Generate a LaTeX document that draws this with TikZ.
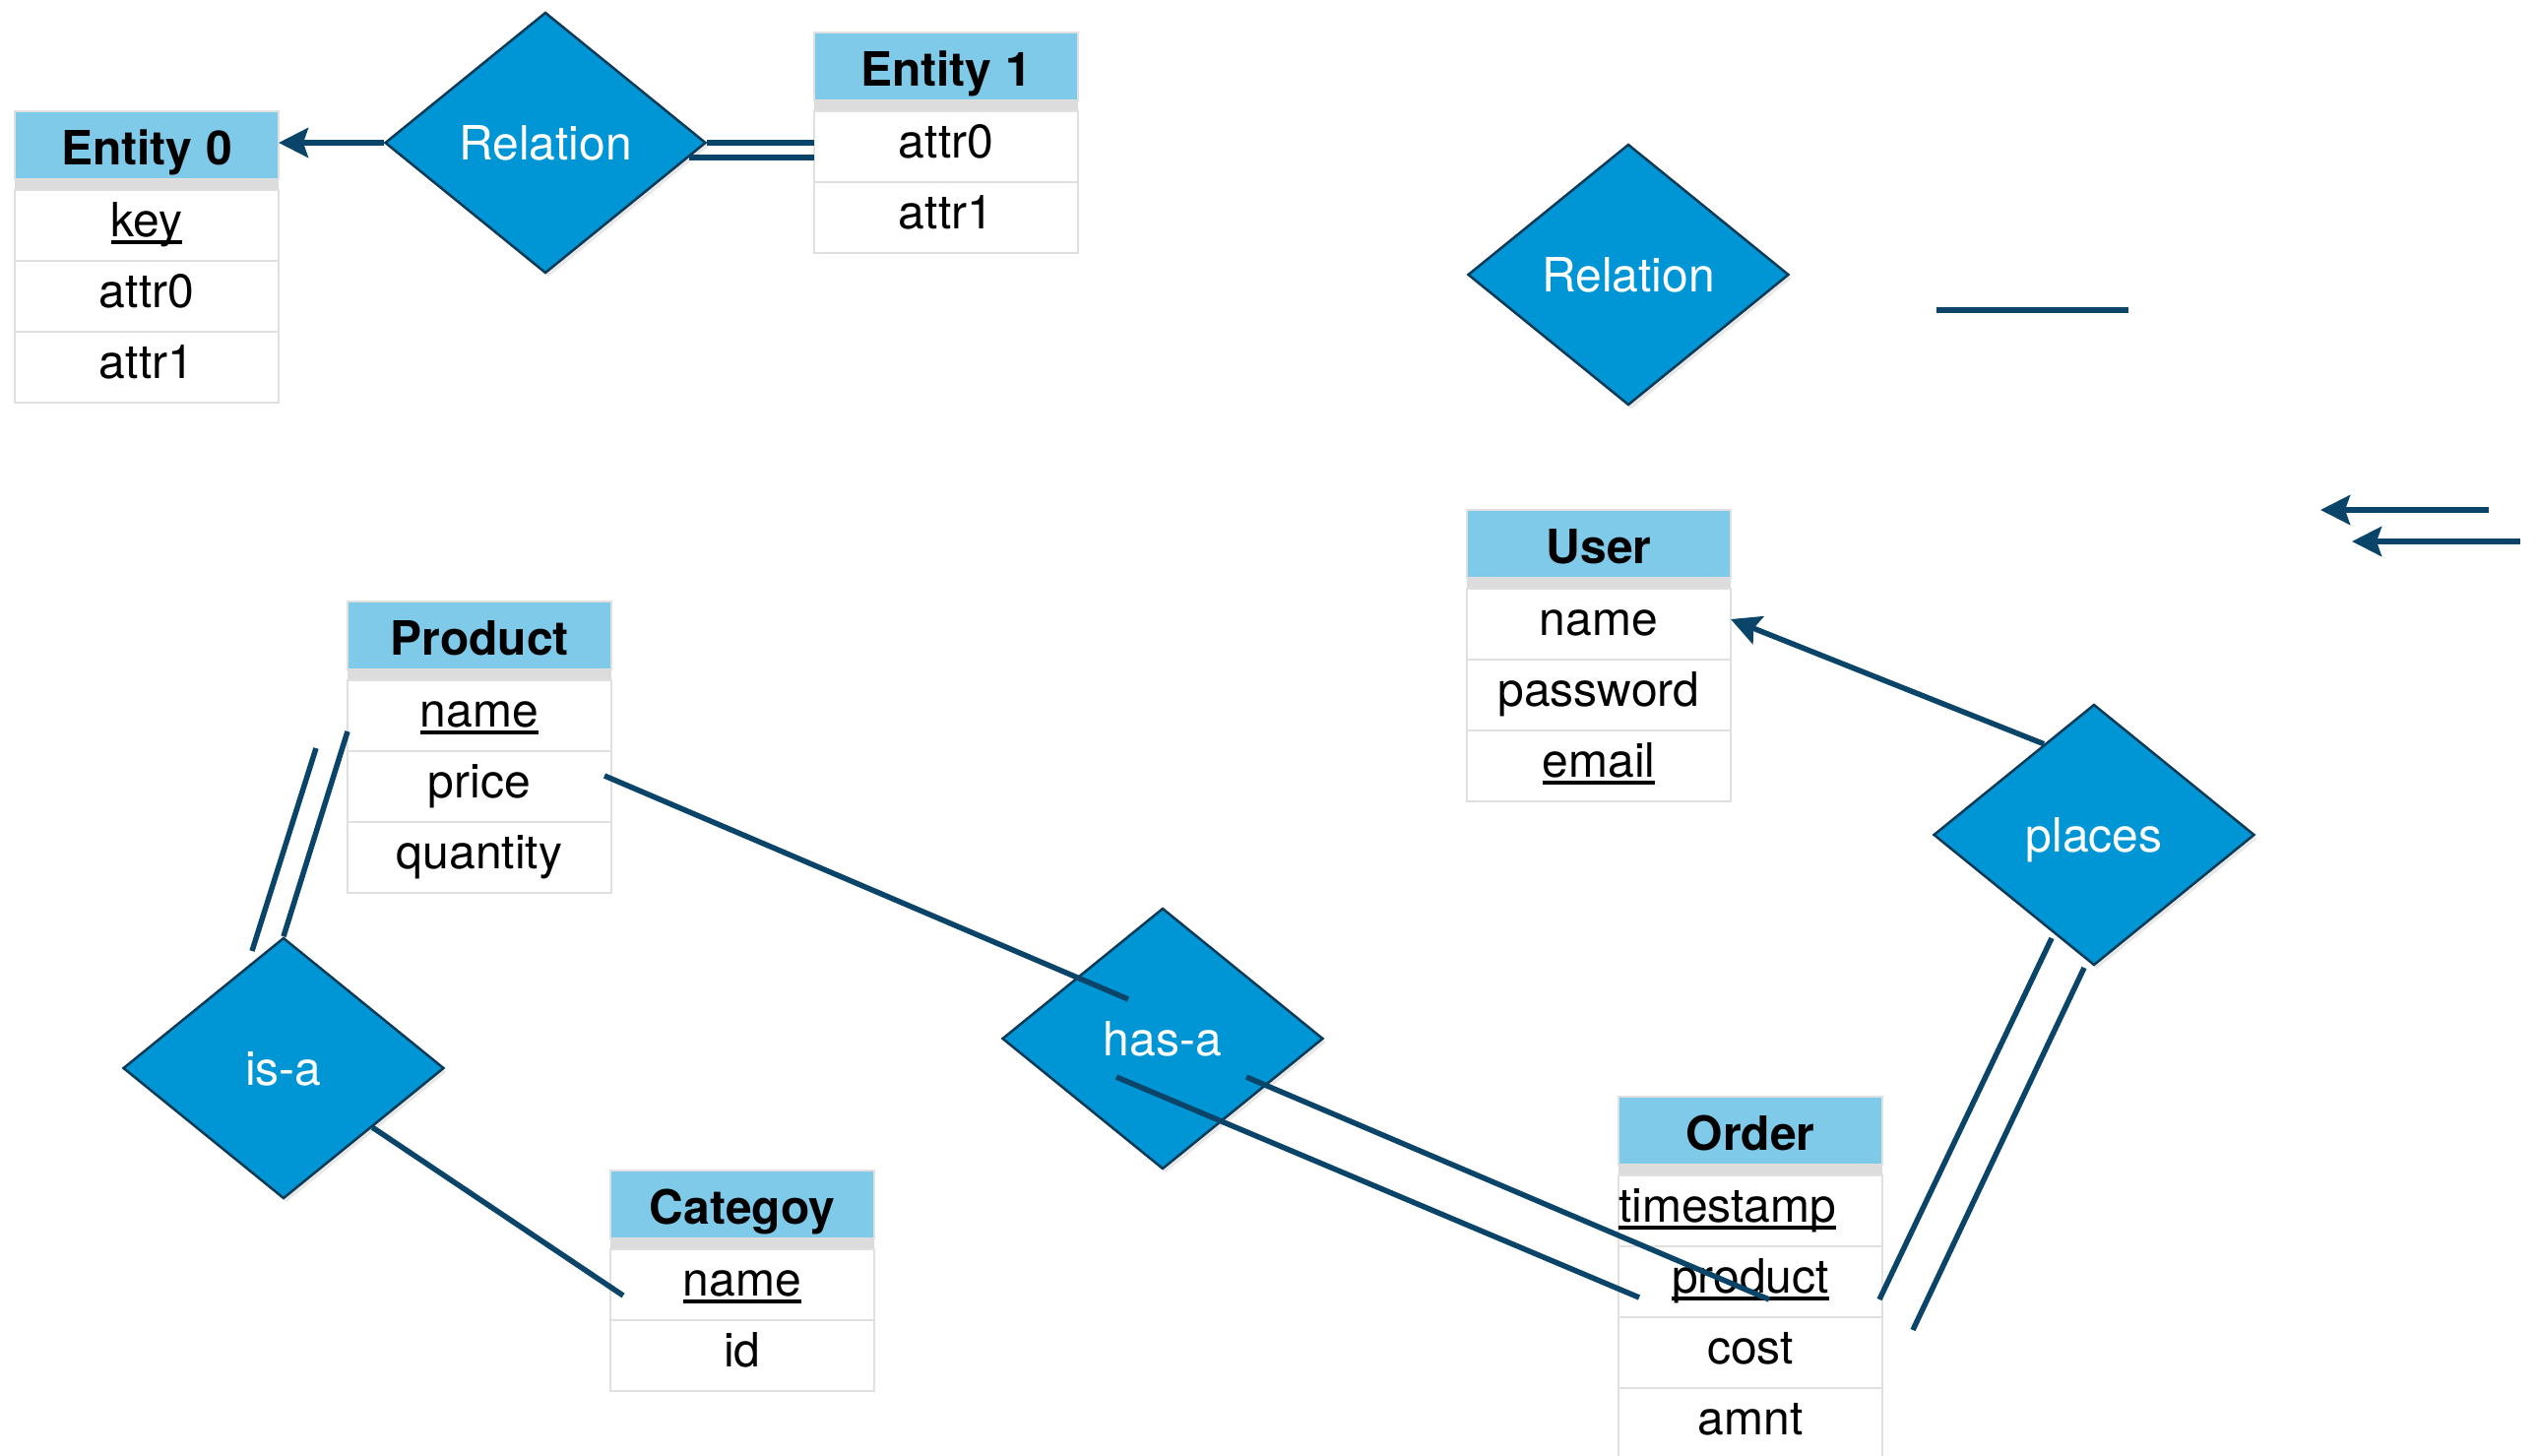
\documentclass[tikz,border=0pt]{standalone}
\usepackage{fontspec}
\setmainfont{TeX Gyre Heros}
\usetikzlibrary{shapes.geometric,arrows.meta,positioning,calc,shadows}
\definecolor{hdrblue}{HTML}{7FC9E9}
\definecolor{dfill}{HTML}{0096D6}
\definecolor{dborder}{HTML}{0B3A57}
\definecolor{conncol}{HTML}{0A4468}
\definecolor{bandgray}{HTML}{DCDCDC}
\definecolor{cellgray}{HTML}{E0E0E0}
\newcommand\cellfont{\fontsize{48}{56}\selectfont}
\newcommand\hdrfont{\fontsize{48}{56}\selectfont\bfseries}
\newsavebox\keybox
\newcommand\keyattr[1]{\sbox\keybox{#1}\leavevmode\rlap{\vrule height -4pt depth 8pt width \wd\keybox}\usebox\keybox}
\tikzset{
  hdr/.style={draw=cellgray, line width=2pt, fill=hdrblue, minimum width=268pt, minimum height=69pt,
    inner sep=0pt, outer sep=0pt, font=\hdrfont, text height=40pt, text depth=0pt},
  band/.style={fill=bandgray, minimum width=268pt, minimum height=11pt, inner sep=0pt, outer sep=0pt},
  cell/.style={draw=cellgray, line width=2.5pt, fill=white, minimum width=268pt, minimum height=72pt,
    inner sep=0pt, outer sep=0pt, font=\cellfont, text height=40pt, text depth=18pt},
  rel/.style={diamond, aspect=1.23, fill=dfill, draw=dborder, line width=2.5pt, minimum width=326pt,
    minimum height=265pt, inner sep=0pt, font=\cellfont, text=white, text height=34pt, text depth=0pt,
    drop shadow={shadow xshift=3pt, shadow yshift=-4pt, opacity=.18}},
  conn/.style={draw=conncol, line width=5.5pt},
  tip/.style={-{Stealth[length=30pt,width=30pt,inset=5pt]}}
}
\begin{document}
\begin{tikzpicture}[x=1pt,y=-1pt]
\useasboundingbox (0,0) rectangle (2578,1478);
% Entity 0
\node[hdr, anchor=north west] (e0h) at (15,113) {Entity 0};
\node[band, below=0pt of e0h] (e0b) {};
\node[cell, below=0pt of e0b] (e0k) {\keyattr{key}};
\node[cell, below=0pt of e0k] (e0a) {attr0};
\node[cell, below=0pt of e0a] (e0c) {attr1};
% Entity 1
\node[hdr, anchor=north west] (e1h) at (827,33) {Entity 1};
\node[band, below=0pt of e1h] (e1b) {};
\node[cell, below=0pt of e1b] (e1a) {attr0};
\node[cell, below=0pt of e1a] (e1c) {attr1};
% User
\node[hdr, anchor=north west] (uh) at (1490,518) {User};
\node[band, below=0pt of uh] (ub) {};
\node[cell, below=0pt of ub] (un) {name};
\node[cell, below=0pt of un] (up) {password};
\node[cell, below=0pt of up] (ue) {\keyattr{email}};
% Product
\node[hdr, anchor=north west] (ph) at (353,611) {Product};
\node[band, below=0pt of ph] (pb) {};
\node[cell, below=0pt of pb] (pn) {\keyattr{name}};
\node[cell, below=0pt of pn] (pp) {price};
\node[cell, below=0pt of pp] (pq) {quantity};
% Category
\node[hdr, anchor=north west] (ch) at (620,1189) {Categoy};
\node[band, below=0pt of ch] (cb) {};
\node[cell, below=0pt of cb] (cn) {\keyattr{name}};
\node[cell, below=0pt of cn] (ci) {id};
% Order
\node[hdr, anchor=north west] (oh) at (1644,1114) {Order};
\node[band, below=0pt of oh] (ob) {};
\node[cell, below=0pt of ob, text width=268pt, align=left] (ot) {\keyattr{timestamp}};
\node[cell, below=0pt of ot] (op) {\keyattr{product}};
\node[cell, below=0pt of op] (oc) {cost};
\node[cell, below=0pt of oc] (oa) {amnt};
% Relations
\node[rel] (rel1) at (554,145) {Relation};
\node[rel] (rel2) at (1654,279) {Relation};
\node[rel] (pl) at (2127,848) {places};
\node[rel] (isa) at (288,1085) {is-a};
\node[rel] (hasa) at (1181,1055) {has-a};
% connector end points
\coordinate (r1low) at (700,160);
\coordinate (fa) at (1967,315);
\coordinate (fb) at (2162,315);
\coordinate (ga) at (2528,518);
\coordinate (gb) at (2357,518);
\coordinate (ha) at (2560,550);
\coordinate (hb) at (2389,550);
\coordinate (plu) at ($(pl.north)!0.31!(pl.west)$);
\coordinate (pa1) at (321,760);
\coordinate (pa2) at (256,966);
\coordinate (pb1) at (353,743);
\coordinate (ic1) at ($(isa.east)!0.45!(isa.south)$);
\coordinate (ic2) at (633,1316);
\coordinate (pr1) at (614,788);
\coordinate (pr2) at (1146,1015);
\coordinate (hx1) at (1134,1094);
\coordinate (hx2) at (1665,1318);
\coordinate (hy1) at (1266,1094);
\coordinate (hy2) at (1797,1320);
\coordinate (px1) at (2084,953);
\coordinate (px2) at (1909,1320);
\coordinate (py1) at (2117,983);
\coordinate (py2) at (1943,1351);
% connectors
\draw[conn,tip] (rel1.west) -- (rel1.west -| e0h.east);
\draw[conn] (rel1.east) -- (rel1.east -| e1h.west);
\draw[conn] (r1low) -- (r1low -| e1h.west);
\draw[conn] (fa) -- (fb);
\draw[conn,tip] (ga) -- (gb);
\draw[conn,tip] (ha) -- (hb);
\draw[conn,tip] (plu) -- ($(un.east)+(0,-5)$);
\draw[conn] (pa1) -- (pa2);
\draw[conn] (pb1) -- (isa.north);
\draw[conn] (ic1) -- (ic2);
\draw[conn] (pr1) -- (pr2);
\draw[conn] (hx1) -- (hx2);
\draw[conn] (hy1) -- (hy2);
\draw[conn] (px1) -- (px2);
\draw[conn] (py1) -- (py2);
\end{tikzpicture}
\end{document}
